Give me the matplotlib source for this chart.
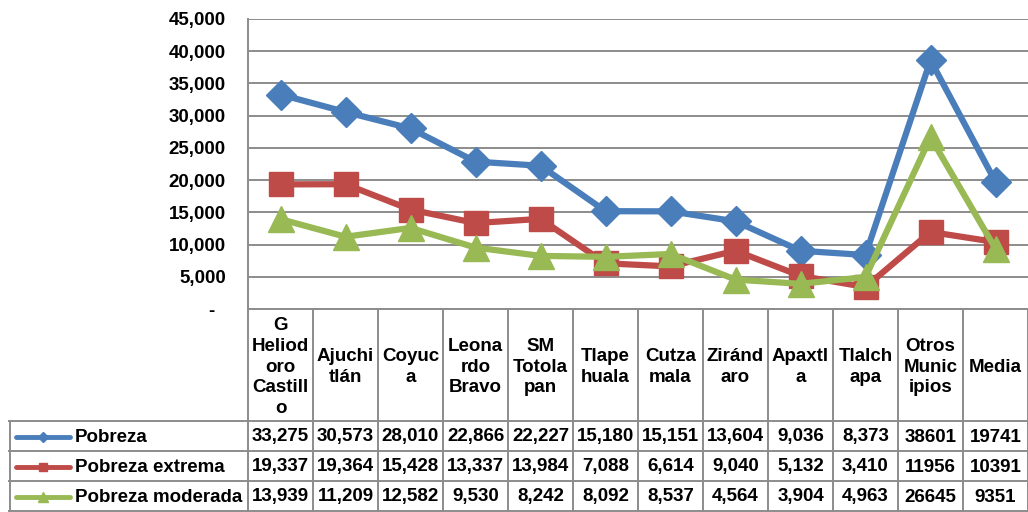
import matplotlib
matplotlib.use('Agg')
import matplotlib.pyplot as plt
import numpy as np

plt.rcParams['font.family'] = ['Liberation Sans', 'DejaVu Sans']

# ---------------- data ----------------
categories = ["G\nHeliod\noro\nCastill\no", "Ajuchi\ntlán", "Coyuc\na", "Leona\nrdo\nBravo",
              "SM\nTotola\npan", "Tlape\nhuala", "Cutza\nmala", "Ziránd\naro", "Apaxtl\na",
              "Tlalch\napa", "Otros\nMunic\nipios", "Media"]
series_names = ["Pobreza", "Pobreza extrema", "Pobreza moderada"]
pobreza = [33275, 30573, 28010, 22866, 22227, 15180, 15151, 13604, 9036, 8373, 38601, 19741]
pobreza_extrema = [19337, 19364, 15428, 13337, 13984, 7088, 6614, 9040, 5132, 3410, 11956, 10391]
pobreza_moderada = [13939, 11209, 12582, 9530, 8242, 8092, 8537, 4564, 3904, 4963, 26645, 9351]
pobreza_txt = ["33,275", "30,573", "28,010", "22,866", "22,227", "15,180", "15,151", "13,604",
               "9,036", "8,373", "38601", "19741"]
pobreza_extrema_txt = ["19,337", "19,364", "15,428", "13,337", "13,984", "7,088", "6,614", "9,040",
                       "5,132", "3,410", "11956", "10391"]
pobreza_moderada_txt = ["13,939", "11,209", "12,582", "9,530", "8,242", "8,092", "8,537", "4,564",
                        "3,904", "4,963", "26645", "9351"]
yticks = [0, 5000, 10000, 15000, 20000, 25000, 30000, 35000, 40000, 45000]
ytick_labels = ["-  ", "5,000", "10,000", "15,000", "20,000", "25,000", "30,000", "35,000", "40,000", "45,000"]

colors = ["#4A7EBB", "#BE4B48", "#98B954"]
markers = ["D", "s", "^"]
msizes = [15, 17, 19]
values = [pobreza, pobreza_extrema, pobreza_moderada]
texts = [pobreza_txt, pobreza_extrema_txt, pobreza_moderada_txt]

# ---------------- layout ----------------
W, H = 1028, 512
left_px, top_px, bottom_px = 248, 19, 309
cat_w = 65.0
fs = 13.5
grid_col = "#8C8C8C"

fig = plt.figure(figsize=(W / 100, H / 100), dpi=100)
ax = fig.add_axes([left_px / W, (H - bottom_px) / H, len(categories) * cat_w / W, (bottom_px - top_px) / H])
x = np.arange(len(categories))
ax.set_xlim(-0.5, len(categories) - 0.5)
ax.set_ylim(0, 45000)

for vals, c, m, ms in zip(values, colors, markers, msizes):
    ax.plot(x, vals, color=c, lw=4.5, marker=m, ms=ms, mec=c, mfc=c, solid_capstyle='round', zorder=3)

ax.set_yticks(yticks)
ax.set_yticklabels(ytick_labels, fontsize=fs, fontweight='bold')
ax.tick_params(axis='y', length=0, pad=16)
ax.set_xticks([])
ax.yaxis.grid(True, color=grid_col, lw=1.4)
ax.set_axisbelow(True)
for s in ['top', 'right']:
    ax.spines[s].set_visible(False)
for s in ['left', 'bottom']:
    ax.spines[s].set_color(grid_col)
    ax.spines[s].set_linewidth(1.4)

# ---------------- data table ----------------
tab_left_px = 9
tax = fig.add_axes([tab_left_px / W, 0, (W - tab_left_px) / W, (H - bottom_px) / H])
x_min = -0.5 - (left_px - tab_left_px) / cat_w
tax.set_xlim(x_min, len(categories) - 0.5)
tax.set_ylim(H, bottom_px)
tax.axis('off')

header_bot = 421
row_edges = [421, 451, 481, 511]


def px2x(px):
    return -0.5 + (px - left_px) / cat_w


lc = dict(color=grid_col, lw=1.4, clip_on=False)
# vertical lines
for i in range(len(categories) + 1):
    tax.plot([i - 0.5, i - 0.5], [bottom_px, H], **lc)
tax.plot([x_min + 0.01, x_min + 0.01], [header_bot, H], **lc)
# horizontal lines
for y in row_edges:
    tax.plot([x_min, len(categories) - 0.5], [y, y], **lc)

# header text
for i, cat in enumerate(categories):
    tax.text(i, (bottom_px + header_bot) / 2 + 2, cat, ha='center', va='center', fontsize=fs,
             fontweight='bold', linespacing=1.27)

# rows
for r, (name, txts, c, m) in enumerate(zip(series_names, texts, colors, markers)):
    yc = (row_edges[r] + row_edges[r + 1]) / 2 + 1
    for i, t in enumerate(txts):
        tax.text(i, yc, t, ha='center', va='center', fontsize=fs, fontweight='bold')
    tax.plot([px2x(16), px2x(70)], [yc, yc], color=c, lw=3.5, solid_capstyle='round', clip_on=False)
    tax.plot([px2x(43)], [yc], marker=m, ms=[5, 6, 7][r], color=c, clip_on=False)
    tax.text(px2x(75), yc, name, ha='left', va='center', fontsize=fs, fontweight='bold')

fig.savefig("out.png", dpi=100)
